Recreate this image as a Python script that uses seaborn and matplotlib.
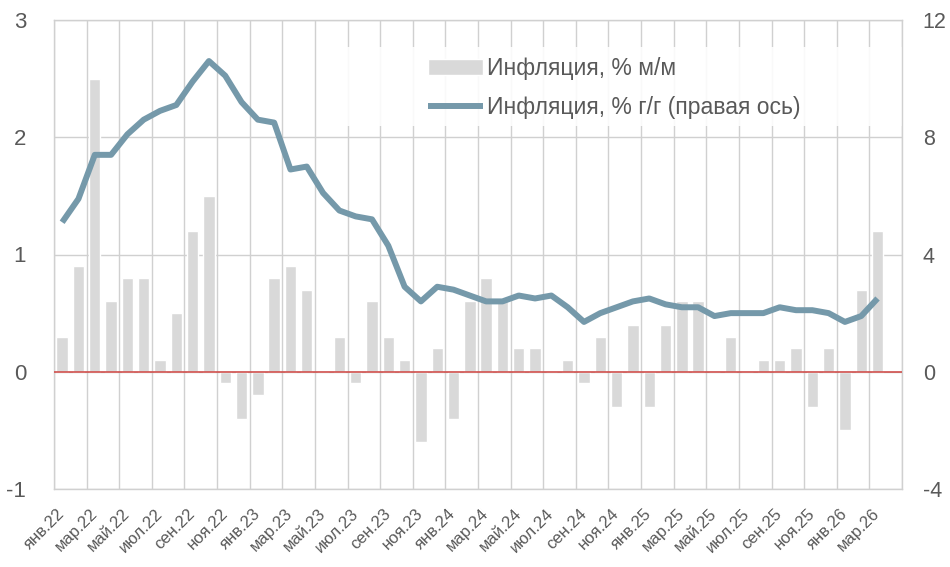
import numpy as np
import pandas as pd
import matplotlib
matplotlib.use("Agg")
import matplotlib.pyplot as plt
import seaborn as sns
from matplotlib.patches import Rectangle

# Data (Jan 2022 - Mar 2026)
months = ["янв", "фев", "мар", "апр", "май", "июн",
          "июл", "авг", "сен", "окт", "ноя", "дек"]
years = ["22", "23", "24", "25", "26"]
labels = [f"{m}.{y}" for y in years for m in months][:51]

mom = [0.3, 0.9, 2.5, 0.6, 0.8, 0.8, 0.1, 0.5, 1.2, 1.5,
       -0.1, -0.4, -0.2, 0.8, 0.9, 0.7, 0.0, 0.3, -0.1, 0.6,
       0.3, 0.1, -0.6, 0.2, -0.4, 0.6, 0.8, 0.6, 0.2, 0.2,
       0.0, 0.1, -0.1, 0.3, -0.3, 0.4, -0.3, 0.4, 0.6, 0.6,
       0.0, 0.3, 0.0, 0.1, 0.1, 0.2, -0.3, 0.2, -0.5, 0.7,
       1.2]

yoy = [5.1, 5.9, 7.4, 7.4, 8.1, 8.6, 8.9, 9.1, 9.9, 10.6,
       10.1, 9.2, 8.6, 8.5, 6.9, 7.0, 6.1, 5.5, 5.3, 5.2,
       4.3, 2.9, 2.4, 2.9, 2.8, 2.6, 2.4, 2.4, 2.6, 2.5,
       2.6, 2.2, 1.7, 2.0, 2.2, 2.4, 2.5, 2.3, 2.2, 2.2,
       1.9, 2.0, 2.0, 2.0, 2.2, 2.1, 2.1, 2.0, 1.7, 1.9,
       2.5]

df = pd.DataFrame({"month": labels, "mom": mom, "yoy": yoy, "pos": np.arange(len(labels))})

sns.set_theme(style="white")
plt.rcParams["font.family"] = ["Liberation Sans", "DejaVu Sans"]
plt.rcParams["axes.unicode_minus"] = False

TEXT = "#595959"
GRID = "#d0d0d0"
BAR = "#d9d9d9"
LINE = "#7599aa"

fig = plt.figure(figsize=(9.5, 5.67), dpi=100)
ax1 = fig.add_axes([54 / 950, 1 - 489 / 567, 848 / 950, 469 / 567])

sns.barplot(data=df, x="month", y="mom", color=BAR, saturation=1, width=0.7,
            ax=ax1, zorder=2, label="Инфляция, % м/м")
ax1.axhline(0, color="#d0504d", lw=1.2, zorder=3)

ax1.set_xlim(-0.5, 51.5)
ax1.set_ylim(-1, 3)
ax1.set_yticks([-1, 0, 1, 2, 3])
ax1.set_xticks(np.arange(0, 51, 2))
ax1.set_xticklabels(labels[::2], rotation=45, ha="right", va="center",
                    rotation_mode="anchor", fontsize=12, color=TEXT)
ax1.set_xticks(np.arange(-0.5, 52, 2), minor=True)
ax1.tick_params(axis="x", which="both", length=0, pad=16)
ax1.tick_params(axis="y", length=0, pad=20, labelsize=16, labelcolor=TEXT)
ax1.grid(False)
ax1.grid(True, axis="y", which="major", color=GRID, lw=1, zorder=0.5)
ax1.grid(True, axis="x", which="minor", color=GRID, lw=1, zorder=0.5)
ax1.set_axisbelow(True)
ax1.set_xlabel("")
ax1.set_ylabel("")
for s in ax1.spines.values():
    s.set_color(GRID)
    s.set_linewidth(1)

# legend backdrop
ax1.add_patch(Rectangle((0.343, 0.774), 0.657, 0.168, transform=ax1.transAxes,
                        facecolor="white", edgecolor="none", alpha=0.88, zorder=1))

ax2 = ax1.twinx()
sns.lineplot(data=df, x="pos", y="yoy", color=LINE, lw=4.3, ax=ax2,
             label="Инфляция, % г/г (правая ось)", solid_capstyle="butt")
ax2.set_ylim(-4, 12)
ax2.set_yticks([-4, 0, 4, 8, 12])
ax2.tick_params(axis="y", length=0, pad=15, labelsize=15.5, labelcolor=TEXT)
ax2.set_ylabel("")
ax2.grid(False)
for s in ax2.spines.values():
    s.set_visible(False)
ax2.set_xlim(-0.5, 51.5)

h1, l1 = ax1.get_legend_handles_labels()
h2, l2 = ax2.get_legend_handles_labels()
for a in (ax1, ax2):
    if a.get_legend():
        a.get_legend().remove()
ax2.legend(h1 + h2, l1 + l2, loc="upper left", bbox_to_anchor=(0.441, 0.922),
           frameon=False, fontsize=16.5, labelcolor=TEXT, handlelength=2.4,
           handletextpad=0.17, labelspacing=0.7, borderpad=0, borderaxespad=0)

fig.savefig("out.png", dpi=100)
